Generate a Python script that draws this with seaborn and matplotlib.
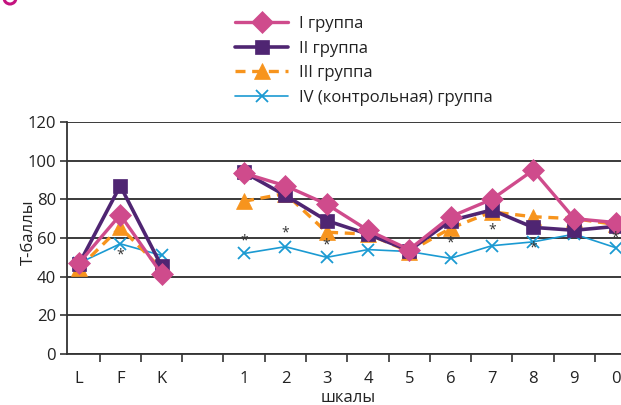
import numpy as np
import pandas as pd
import matplotlib
matplotlib.use("Agg")
import matplotlib.pyplot as plt
from matplotlib.lines import Line2D
from matplotlib.patches import Circle
import seaborn as sns

# ---- data ----
categories = ["L", "F", "K", "", "1", "2", "3", "4", "5", "6", "7", "8", "9", "0"]
group_I   = [47, 72, 41.5, None, 93.5, 87, 77.5, 64, 54, 71, 80, 95, 70, 68]
group_II  = [46.5, 87, 45.5, None, 94, 82, 69, 62, 53.5, 69, 74.5, 65.5, 64, 66]
group_III = [44.5, 65.5, 44, None, 79, 83, 63, 62, 53, 65, 73.5, 71, 70, 67]
group_IV  = [47, 57, 51, None, 52, 55.5, 50, 54, 53, 49.5, 56, 58, 62, 55]
series_names = ["I группа", "II группа", "III группа", "IV (контрольная) группа"]
# significance asterisks: (category, value)
star_cats = ["F", "1", "2", "3", "6", "7", "8", "0"]
star_vals = [51, 58.5, 62.5, 56.5, 57.5, 64, 55, 60]
y_ticks = [0, 20, 40, 60, 80, 100, 120]

sns.set_theme(style="white")
plt.rcParams["font.family"] = ["Open Sans", "DejaVu Sans"]

colors = ["#CF4B8C", "#4F2572", "#F7941D", "#1B9AD2"]
markers = ["D", "s", "^", "x"]
msizes = [11, 10.5, 11.5, 8]
lws = [2.4, 2.6, 2.4, 1.2]

rows = []
for name, vals in zip(series_names, [group_I, group_II, group_III, group_IV]):
    for i, v in enumerate(vals):
        if v is None:
            continue
        rows.append({"group": name, "x": i, "y": v, "seg": 0 if i < 3 else 1})
df = pd.DataFrame(rows)

fig = plt.figure(figsize=(6.21, 4.05), dpi=100)
W, H = 621, 405
left_px, right_px, bottom_px, top_px = 67, 621, 354, 122
ax = fig.add_axes([left_px / W, 1 - bottom_px / H,
                   (right_px - left_px) / W, (bottom_px - top_px) / H])

# gridlines
for yt in y_ticks:
    ax.axhline(yt, color="#2b2b2b", lw=1.3, zorder=0)

order = [3, 2, 1, 0]
for k in order:
    name = series_names[k]
    sub = df[df["group"] == name]
    n_before = len(ax.lines)
    sns.lineplot(data=sub, x="x", y="y", units="seg", estimator=None,
                 color=colors[k], marker=markers[k], markersize=msizes[k],
                 markeredgecolor=colors[k], markeredgewidth=1.3 if k == 3 else 0.5,
                 lw=lws[k], ax=ax, legend=False, zorder=3 + (3 - k))
    if k == 2:
        for ln in ax.lines[n_before:]:
            ln.set_dashes([3.0, 2.0])

# asterisks
for c, v in zip(star_cats, star_vals):
    ax.text(categories.index(c), v, "*", ha="center", va="center",
            fontsize=10, color="#333333", zorder=10)

ax.set_xlim(-0.29, 13.13)
ax.set_ylim(0, 120)
ax.set_xticks(range(len(categories)))
ax.set_xticklabels(categories)
ax.set_xticks([i + 0.5 for i in range(13)], minor=True)
ax.set_yticks(y_ticks)
ax.tick_params(axis="x", which="major", length=0, pad=12, labelsize=12, colors="#222222")
ax.tick_params(axis="x", which="minor", length=6, width=1.2, color="#333333", direction="out", bottom=True)
ax.tick_params(axis="y", which="major", length=5, width=1.2, color="#333333", direction="out",
               left=True, labelsize=12, labelcolor="#222222", pad=3)

for s in ["top", "right"]:
    ax.spines[s].set_visible(False)
for s in ["left", "bottom"]:
    ax.spines[s].set_color("#333333")
    ax.spines[s].set_linewidth(1.3)

ax.set_xlabel("")
ax.set_ylabel("")
fig.text(29 / W, 1 - 232 / H, "Т-баллы", rotation=90, ha="center", va="center",
         fontsize=12, color="#222222")
fig.text(348 / W, 1 - 398 / H, "шкалы", ha="center", va="center",
         fontsize=12, color="#222222")

# legend
handles = []
for k in range(4):
    h = Line2D([], [], color=colors[k], marker=markers[k], markersize=msizes[k],
               lw=lws[k], markeredgecolor=colors[k],
               markeredgewidth=1.3 if k == 3 else 0.5,
               linestyle="--" if k == 2 else "-")
    if k == 2:
        h.set_dashes([3.0, 2.0])
    handles.append(h)
fig.legend(handles, series_names, loc="upper left",
           bbox_to_anchor=(235 / W, 1 - 16 / H), frameon=False, fontsize=12,
           handlelength=3.2, labelspacing=0.52, handletextpad=0.65,
           borderaxespad=0, borderpad=0, labelcolor="#222222")

# small decorative ring fragment at top-left
ring = Circle((10, H + 2), 6, transform=None, fill=False, edgecolor="#C4127F", lw=2.2)
fig.patches.append(ring)

fig.savefig("out.png", dpi=100)
